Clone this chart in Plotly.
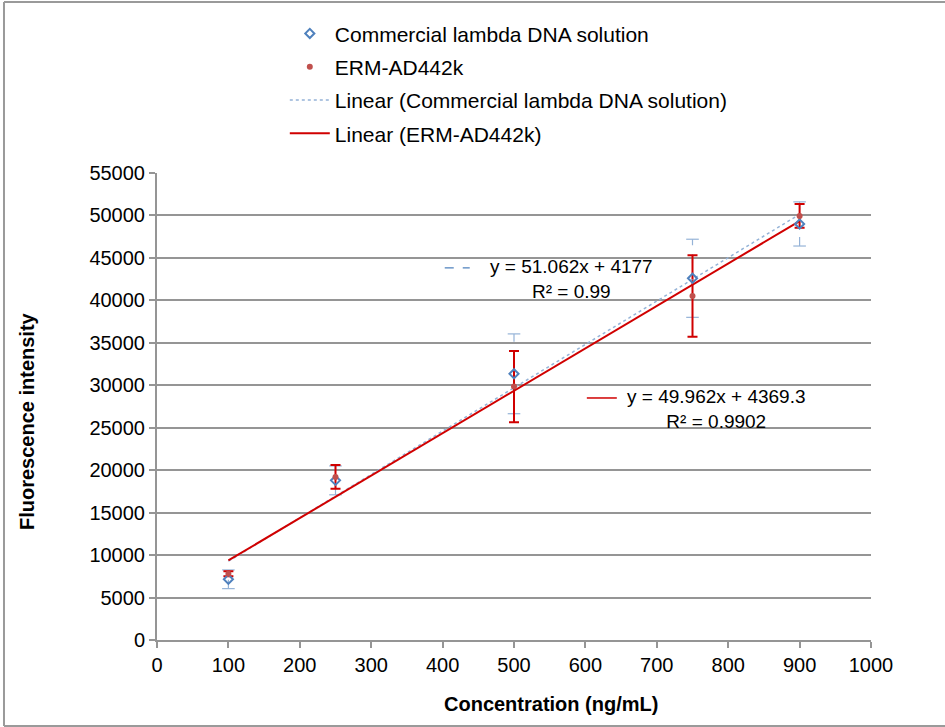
import plotly.graph_objects as go

# ---- data ----
conc = [100, 250, 500, 750, 900]
commercial = [7150, 18800, 31350, 42600, 49000]
commercial_err = [1100, 1700, 4700, 4600, 2600]
erm = [7800, 19200, 29850, 40500, 49950]
erm_err = [300, 1400, 4200, 4800, 1400]

# trendline coefficients (from the chart's equations)
comm_slope, comm_icpt = 51.062, 4177
erm_slope, erm_icpt = 49.962, 4369.3
trend_x = [conc[0], conc[-1]]

x_ticks = [0, 100, 200, 300, 400, 500, 600, 700, 800, 900, 1000]
y_ticks = list(range(0, 55001, 5000))

BLUE = "#4F81BD"
LBLUE = "#95B3D7"
RED = "#C0504D"
DRED = "#D00000"
GRID = "#959595"
FONT = "Liberation Sans, Arial, sans-serif"

fig = go.Figure()

# blue dashed error bars (vertical part + caps) built from data
ex, ey = [], []
for xv, yv, ev in zip(conc, commercial, commercial_err):
    ex += [xv, xv, None]
    ey += [yv - ev, yv + ev, None]
fig.add_trace(go.Scatter(x=ex, y=ey, mode="lines", showlegend=False, hoverinfo="skip",
                         line=dict(color=LBLUE, width=1.2, dash="dash")))
fig.add_trace(go.Scatter(x=conc + conc,
                         y=[a - b for a, b in zip(commercial, commercial_err)] +
                           [a + b for a, b in zip(commercial, commercial_err)],
                         mode="markers", showlegend=False, hoverinfo="skip",
                         marker=dict(symbol="line-ew", size=9, line=dict(color=LBLUE, width=1.2))))

# red error bars
fig.add_trace(go.Scatter(x=conc, y=erm, mode="markers", showlegend=False, hoverinfo="skip",
                         marker=dict(size=0.1, color="rgba(0,0,0,0)"),
                         error_y=dict(type="data", array=erm_err, visible=True,
                                      color=DRED, thickness=2, width=5)))

# trendlines
fig.add_trace(go.Scatter(x=trend_x, y=[comm_slope * v + comm_icpt for v in trend_x],
                         mode="lines", name="Linear (Commercial lambda DNA solution)",
                         legendgroup="c", legendrank=3,
                         line=dict(color=LBLUE, width=1.5, dash="dot")))
fig.add_trace(go.Scatter(x=trend_x, y=[erm_slope * v + erm_icpt for v in trend_x],
                         mode="lines", name="Linear (ERM-AD442k)",
                         legendgroup="d", legendrank=4,
                         line=dict(color=DRED, width=2)))

# markers
fig.add_trace(go.Scatter(x=conc, y=commercial, mode="markers",
                         name="Commercial lambda DNA solution", legendgroup="a", legendrank=1,
                         marker=dict(symbol="diamond-open", size=7, color=BLUE,
                                     line=dict(color=BLUE, width=2))))
fig.add_trace(go.Scatter(x=conc, y=erm, mode="markers",
                         name="ERM-AD442k", legendgroup="b", legendrank=2,
                         marker=dict(symbol="circle", size=6, color=RED)))

# equation labels
fig.add_annotation(x=581, y=42460, xref="x", yref="y", xanchor="center", yanchor="middle",
                   align="center", showarrow=False,
                   text="y = 51.062x + 4177<br>R² = 0.99",
                   font=dict(family=FONT, size=19, color="#000"))
fig.add_shape(type="line", xref="x", yref="y", x0=403, x1=438, y0=43816, y1=43816,
              line=dict(color=BLUE, width=1.2, dash="dash"))
fig.add_annotation(x=784, y=27208, xref="x", yref="y", xanchor="center", yanchor="middle",
                   align="center", showarrow=False,
                   text="y = 49.962x + 4369.3<br>R² = 0.9902",
                   font=dict(family=FONT, size=19, color="#000"))
fig.add_shape(type="line", xref="x", yref="y", x0=602, x1=644, y0=28504, y1=28504,
              line=dict(color=DRED, width=1.5))

# axis titles (placed as in the reference, slightly off-centre)
fig.add_annotation(x=0.552, y=-0.137, xref="paper", yref="paper", xanchor="center", yanchor="middle",
                   showarrow=False, text="<b>Concentration (ng/mL)</b>",
                   font=dict(family=FONT, size=20, color="#000"))
fig.add_annotation(x=-0.182, y=0.469, xref="paper", yref="paper", xanchor="center", yanchor="middle",
                   showarrow=False, textangle=-90, text="<b>Fluorescence intensity</b>",
                   font=dict(family=FONT, size=20, color="#000"))

# outer frame (left, top, bottom)
frame = dict(color="#9a9a9a", width=2)
fig.add_shape(type="line", xref="paper", yref="paper", x0=-0.2143, x1=-0.2143, y0=-0.184, y1=1.366, line=frame)
fig.add_shape(type="line", xref="paper", yref="paper", x0=-0.2143, x1=1.2, y0=1.366, y1=1.366, line=frame)
fig.add_shape(type="line", xref="paper", yref="paper", x0=-0.2143, x1=1.2, y0=-0.184, y1=-0.184, line=frame)

fig.update_layout(
    width=945, height=727,
    margin=dict(l=157, r=74, t=173, b=87),
    paper_bgcolor="white", plot_bgcolor="white",
    font=dict(family=FONT, size=20, color="#000"),
    showlegend=True,
    legend=dict(x=0.179, y=1.342, xanchor="left", yanchor="top",
                font=dict(family=FONT, size=21, color="#000"),
                tracegroupgap=3, bgcolor="rgba(0,0,0,0)", itemwidth=40),
    xaxis=dict(range=[0, 1000], tickvals=x_ticks, ticktext=[str(v) for v in x_ticks],
               showgrid=False, zeroline=False, showline=True, linecolor=GRID, linewidth=2,
               ticks="outside", ticklen=6, tickcolor=GRID, tickwidth=2,
               tickfont=dict(family=FONT, size=20)),
    yaxis=dict(range=[0, 55000], tickvals=y_ticks, ticktext=[str(v) for v in y_ticks],
               showgrid=True, gridcolor=GRID, gridwidth=2,
               zeroline=False, showline=True, linecolor=GRID, linewidth=2,
               ticks="outside", ticklen=6, tickcolor=GRID, tickwidth=2,
               tickfont=dict(family=FONT, size=20)),
)

fig.write_html("out.html")
